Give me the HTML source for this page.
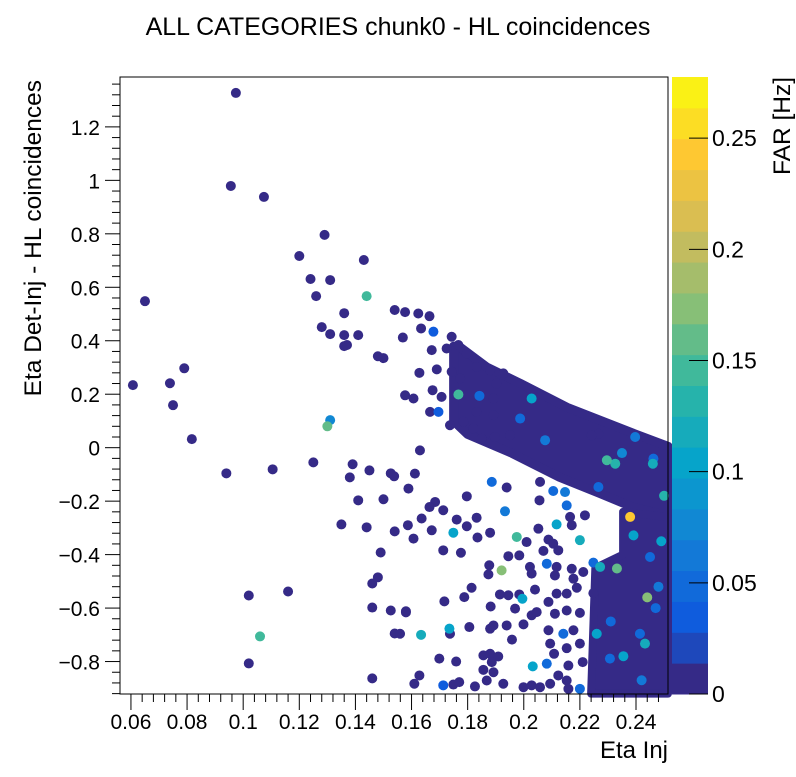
<!DOCTYPE html>
<html><head><meta charset="utf-8"><style>
body{margin:0;background:#fff;}
svg text{font-family:"Liberation Sans",sans-serif;fill:#000;}
</style></head><body>
<svg id="c" width="796" height="772" xmlns="http://www.w3.org/2000/svg">
<text x="398" y="35" font-size="25" text-anchor="middle">ALL CATEGORIES chunk0 - HL coincidences</text>
<text x="668" y="758" font-size="24" text-anchor="end">Eta Inj</text>
<text transform="translate(41,80) rotate(-90)" font-size="24.5" text-anchor="end">Eta Det-Inj - HL coincidences</text>
<text transform="translate(790,77) rotate(-90)" font-size="24.5" text-anchor="end">FAR [Hz]</text>
<g id="marks"></g>
<g id="axes"></g>
</svg>
<script>
const xTicks=[0.06,0.08,0.1,0.12,0.14,0.16,0.18,0.2,0.22,0.24];
const yTicks=[-0.8,-0.6,-0.4,-0.2,0,0.2,0.4,0.6,0.8,1,1.2];
const zTicks=[0,0.05,0.1,0.15,0.2,0.25];
// dense band envelope (data units)
const bandX=[0.175,0.1773,0.1869,0.1987,0.2154,0.2390,0.2514,0.2514,0.2390,0.227,0.2128,0.1958,0.1800,0.175];
const bandY=[0.38,0.376,0.301,0.241,0.151,0.054,0.005,-0.255,-0.223,-0.171,-0.111,-0.021,0.05,0.10];
const blockX=[0.2354,0.2514,0.2514,0.224,0.2255,0.2354];
const blockY=[-0.24,-0.26,-0.92,-0.92,-0.45,-0.40];
// scattered points: x, y, FAR
const ptX=[0.0974,0.0956,0.1074,0.129,0.120,0.124,0.126,0.131,0.143,0.136,0.144,0.128,0.131,0.136,0.136,0.137,0.141,0.065,0.0607,0.0739,0.079,0.075,0.0817,0.094,0.1105,0.125,0.130,0.131,0.102,0.116,0.102,0.106,0.139,0.138,0.145,0.135,0.141,0.144,0.146,0.148,0.149,0.154,0.1526,0.150,0.1587,0.146,0.1526,0.158,0.154,0.146,0.148,0.150,0.154,0.1577,0.1538,
0.1624,0.1664,0.1634,0.1569,0.1678,0.1743,0.1672,0.1725,0.1767,0.1797,0.1628,0.1690,0.1743,0.1773,0.1832,0.1880,0.1927,0.1903,0.1577,0.1607,0.1675,0.1767,0.1842,0.1707,0.1666,0.1696,0.1737,0.1785,0.1832,0.1892,0.1892,0.1820,0.1850,0.1897,0.1951,0.1630,0.1612,0.1589,0.1886,0.1939,0.2058,0.2105,0.2147,0.1797,0.2056,0.1684,0.1664,0.1713,0.1933,0.2153,0.2218,0.1636,0.1761,0.1832,0.2117,0.2165,0.2171,0.1672,0.1749,0.1797,0.1607,0.1835,0.1880,0.1975,0.2010,0.2052,0.2088,0.2105,0.2200,0.1713,0.1776,0.2070,0.2123,0.1945,0.1984,0.2082,0.1877,0.1921,0.2022,0.2028,0.1874,0.2117,0.2171,0.2111,0.2177,0.2212,0.1814,0.1788,0.1717,0.2040,0.1915,0.1945,0.1984,0.1995,0.2117,0.2153,0.2189,0.2248,0.2088,0.1580,0.1882,0.1969,0.2028,0.2046,0.2111,0.2153,0.2200,0.1892,0.1806,0.1735,0.1880,0.1939,0.1999,0.1559,0.1634,0.1737,0.1958,0.2088,0.2141,0.2177,0.2094,0.2153,0.2200,0.2108,0.1699,0.1759,0.1856,0.1880,0.1909,0.1886,0.2210,0.2159,0.2032,0.2082,0.1856,0.1892,0.1628,0.1868,0.1610,0.1713,0.1749,0.1770,0.1826,0.1927,0.1999,0.2028,0.2058,0.2094,0.2123,0.2153,0.2200,0.2159,
0.2266,0.2242,0.1987,0.2076,0.2028,0.2296,0.2326,0.2462,0.2397,0.2266,0.2379,0.2391,0.2450,0.2272,0.2332,0.2260,0.2307,0.2355,0.2414,0.2432,0.2248,0.2480,0.2470,0.2440,0.2500,0.2350,0.2310,0.2420,0.2490,0.2460];
const ptY=[1.327,0.979,0.938,0.796,0.717,0.631,0.567,0.627,0.702,0.503,0.567,0.451,0.425,0.421,0.380,0.384,0.421,0.548,0.234,0.241,0.297,0.159,0.032,-0.096,-0.081,-0.055,0.080,0.103,-0.553,-0.538,-0.807,-0.706,-0.062,-0.111,-0.085,-0.287,-0.197,-0.298,-0.508,-0.485,-0.392,-0.313,-0.096,-0.193,-0.29,-0.598,-0.609,-0.616,-0.695,-0.863,0.342,0.335,0.515,0.507,-0.107,
0.502,0.492,0.446,0.412,0.434,0.415,0.365,0.371,0.384,0.352,0.280,0.293,0.284,0.259,0.302,0.290,0.278,0.240,0.196,0.184,0.215,0.199,0.194,0.190,0.134,0.134,0.084,0.097,0.134,0.184,0.122,0.072,0.034,0.040,0.047,-0.010,-0.097,-0.153,-0.128,-0.149,-0.128,-0.162,-0.166,-0.182,-0.197,-0.203,-0.222,-0.234,-0.238,-0.216,-0.253,-0.265,-0.269,-0.262,-0.287,-0.259,-0.290,-0.309,-0.318,-0.294,-0.340,-0.336,-0.318,-0.334,-0.353,-0.303,-0.344,-0.359,-0.346,-0.384,-0.393,-0.386,-0.384,-0.406,-0.403,-0.434,-0.440,-0.459,-0.446,-0.471,-0.474,-0.446,-0.453,-0.478,-0.490,-0.465,-0.524,-0.559,-0.575,-0.531,-0.549,-0.552,-0.549,-0.565,-0.546,-0.546,-0.524,-0.544,-0.577,-0.612,-0.594,-0.602,-0.627,-0.615,-0.621,-0.609,-0.618,-0.665,-0.671,-0.677,-0.677,-0.665,-0.661,-0.696,-0.700,-0.696,-0.718,-0.683,-0.696,-0.683,-0.733,-0.750,-0.733,-0.771,-0.789,-0.800,-0.777,-0.771,-0.781,-0.802,-0.802,-0.815,-0.818,-0.808,-0.831,-0.840,-0.852,-0.871,-0.883,-0.889,-0.886,-0.877,-0.893,-0.883,-0.896,-0.889,-0.896,-0.883,-0.852,-0.871,-0.902,-0.902,
0.052,0.046,0.109,0.028,0.184,-0.047,-0.060,-0.041,0.040,-0.147,-0.259,-0.328,-0.409,-0.446,-0.452,-0.696,-0.789,-0.780,-0.696,-0.733,-0.430,-0.520,-0.600,-0.560,-0.180,-0.020,-0.650,-0.870,-0.350,-0.060];
const ptZ=[0,0,0,0,0,0,0,0,0,0,0.15,0,0,0,0,0,0,0,0,0,0,0,0,0,0,0,0.16,0.08,0,0,0,0.15,0,0,0,0,0,0,0,0,0,0,0,0,0,0,0,0,0,0,0,0,0,0,0,
0,0,0,0,0.04,0,0,0,0,0,0,0,0,0,0,0,0,0,0,0,0,0.15,0.05,0,0,0.04,0,0,0,0,0,0,0,0,0,0,0,0,0.05,0,0,0.05,0.06,0,0,0,0,0,0.06,0.05,0,0,0,0,0.10,0,0,0,0.11,0,0,0,0,0.15,0,0,0,0,0.12,0,0,0,0,0,0,0.05,0,0.18,0,0,0,0,0,0,0,0,0,0,0,0,0,0,0,0.11,0,0,0,0,0,0,0,0,0,0,0,0,0,0,0,0.10,0,0,0,0,0.12,0,0,0,0.05,0,0,0,0,0,0,0,0,0,0,0,0,0,0.11,0.05,0,0,0,0,0,0.04,0,0,0,0,0,0,0,0,0,0,0.05,0,0,0,
0.05,0.06,0.11,0.14,0.13,0.05,0.06,0.05,0.24,0.11,0.05,0.12,0.16,0.11,0.05,0.10,0.05,0.12,0.05,0.06,0.05,0.18,0.13,0.08,0.05,0.06,0.10,0.12,0.15,0.07];

const L=120,R=668,T=77,B=694,XMIN=0.0561,XMAX=0.2514,YMIN=-0.9214,YMAX=1.3866;
const CL=672,CR=708,ZMAX=0.2775;
const sx=v=>L+(v-XMIN)/(XMAX-XMIN)*(R-L);
const sy=v=>B-(v-YMIN)/(YMAX-YMIN)*(B-T);
const sz=v=>B-v/ZMAX*(B-T);
const NS='http://www.w3.org/2000/svg';
const st=[0,.125,.25,.375,.5,.625,.75,.875,1];
const pr=[0.2082,0.0592,0.0780,0.0232,0.1802,0.5301,0.8186,0.9956,0.9764];
const pg=[0.1664,0.3599,0.5041,0.6419,0.7178,0.7492,0.7328,0.7862,0.9832];
const pb=[0.5293,0.8684,0.8385,0.7914,0.6425,0.4662,0.3499,0.1968,0.0539];
function pal(f){f=Math.max(0,Math.min(1,f));let i=0;while(i<7&&f>st[i+1])i++;const t=(f-st[i])/(st[i+1]-st[i]);
const c=a=>Math.round(255*(a[i]+(a[i+1]-a[i])*t));return `rgb(${c(pr)},${c(pg)},${c(pb)})`;}
const NB=20;
function colorOf(z){const k=Math.min(NB-1,Math.floor(z/ZMAX*NB));return pal((k+0.5)/NB*(k===0?0:1));}
function mk(tag,attrs,parent){const e=document.createElementNS(NS,tag);for(const k in attrs)e.setAttribute(k,attrs[k]);parent.appendChild(e);return e;}
const marks=document.getElementById('marks'),axes=document.getElementById('axes');
const dark=colorOf(0);
let p1=mk('polygon',{points:bandX.map((x,i)=>sx(x)+','+sy(bandY[i])).join(' '),fill:dark,stroke:dark,'stroke-width':9,'stroke-linejoin':'round'},marks);


let p2=mk('polygon',{points:blockX.map((x,i)=>sx(x)+','+sy(blockY[i])).join(' '),fill:dark,stroke:dark,'stroke-width':8,'stroke-linejoin':'round'},marks);


const order=ptX.map((_,i)=>i).sort((a,b)=>ptZ[a]-ptZ[b]);
order.forEach(i=>{
 const c=mk('circle',{cx:sx(ptX[i]),cy:Math.min(B-4,sy(ptY[i])),r:5,fill:colorOf(ptZ[i])},marks);
 
 
});
// colorbar
for(let k=0;k<NB;k++){const z0=k*ZMAX/NB,z1=(k+1)*ZMAX/NB;
 const r=mk('rect',{x:CL,y:sz(z1),width:CR-CL,height:sz(z0)-sz(z1)+0.5,fill:pal((k+0.5)/NB*(k===0?0:1))},axes);
 
 }
zTicks.forEach(z=>{mk('line',{x1:CR-19,x2:CR,y1:sz(z),y2:sz(z),stroke:'#000','stroke-width':1},axes);
 const t=mk('text',{x:CR+4,y:sz(z)+8,'font-size':23},axes);t.textContent=z;
 
 });
// frame
const fr=mk('rect',{x:L,y:T,width:R-L,height:B-T,fill:'none',stroke:'#000','stroke-width':1},axes);


for(let v=0.056;v<=XMAX+1e-9;v+=0.004){const m=Math.abs(v/0.02-Math.round(v/0.02))<1e-6;
 if(sx(v)<L)continue;mk('line',{x1:sx(v),x2:sx(v),y1:B,y2:B+(m?16:8),stroke:'#000'},axes);}
xTicks.forEach(v=>{const t=mk('text',{x:sx(v),y:B+35,'font-size':21,'text-anchor':'middle'},axes);t.textContent=v;
 
 });
for(let v=-0.92;v<=YMAX;v+=0.04){const m=Math.abs(v/0.2-Math.round(v/0.2))<1e-6;
 if(sy(v)>B)continue;mk('line',{x1:L-(m?15:8),x2:L,y1:sy(v),y2:sy(v),stroke:'#000'},axes);}
yTicks.forEach(v=>{const t=mk('text',{x:L-20,y:sy(v)+8,'font-size':21,'text-anchor':'end'},axes);t.textContent=(v<0?'\u2212'+(-v):v);
 
 });
</script>
</body></html>
